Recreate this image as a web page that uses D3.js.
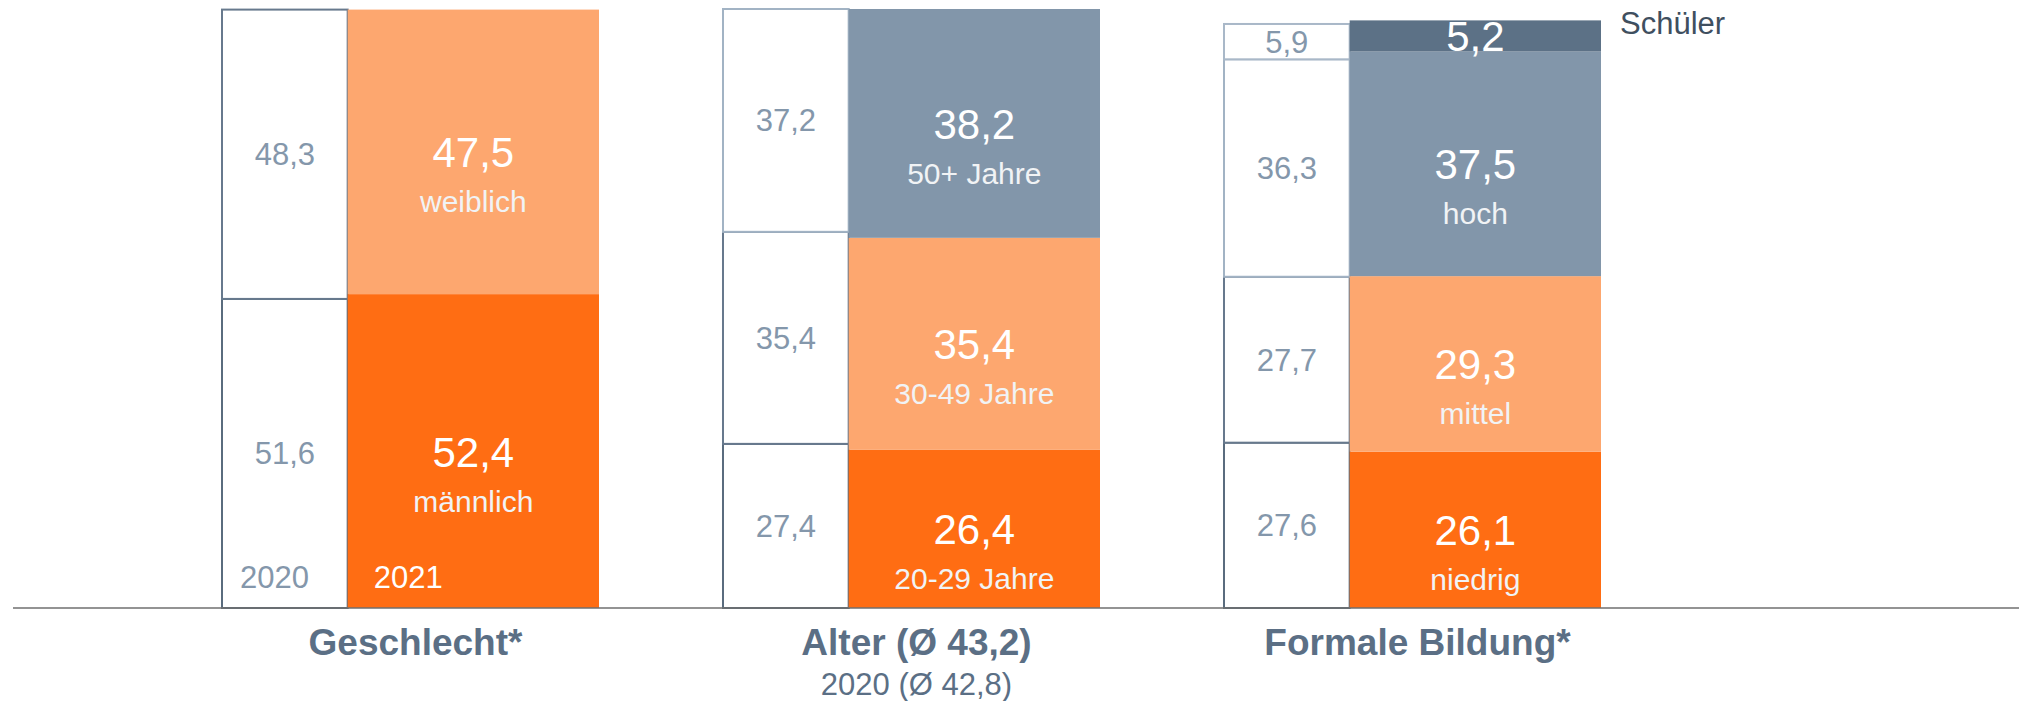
<!DOCTYPE html>
<html>
<head>
<meta charset="utf-8">
<script src="https://cdn.jsdelivr.net/npm/d3@7"></script>
<style>
  html, body { margin: 0; padding: 0; background: #fff; }
  svg { display: block; font-family: "Liberation Sans", Arial, sans-serif; }
</style>
</head>
<body>
<svg id="chart" width="2019" height="701"></svg>
<script>
// ---- data ----
const categories = ["Geschlecht*", "Alter (Ø 43,2)", "Formale Bildung*"];
const categorySubtitles = ["", "2020 (Ø 42,8)", ""];
const yearLabels = ["2020", "2021"];

const geschlechtLabels = ["männlich", "weiblich"];
const geschlecht2020 = [51.6, 48.3];
const geschlecht2021 = [52.4, 47.5];

const alterLabels = ["20-29 Jahre", "30-49 Jahre", "50+ Jahre"];
const alter2020 = [27.4, 35.4, 37.2];
const alter2021 = [26.4, 35.4, 38.2];

const bildungLabels = ["niedrig", "mittel", "hoch", "Schüler"];
const bildung2020 = [27.6, 27.7, 36.3, 5.9];
const bildung2021 = [26.1, 29.3, 37.5, 5.2];

const groups = [
  { cat: categories[0], sub: categorySubtitles[0], labels: geschlechtLabels, v2020: geschlecht2020, v2021: geschlecht2021 },
  { cat: categories[1], sub: categorySubtitles[1], labels: alterLabels, v2020: alter2020, v2021: alter2021 },
  { cat: categories[2], sub: categorySubtitles[2], labels: bildungLabels, v2020: bildung2020, v2021: bildung2021 }
];

// ---- styles ----
const fillColors = ["#ff6d13", "#fda76f", "#8296aa", "#5c7186"];
const strokeColors = ["#5a6c7e", "#67798d", "#a2b3c4", "#a9b8c8"];
const valueGray = "#8497ab";
const titleColor = "#5b6f85";

const svg = d3.select("#chart");

const x = d3.scaleBand()
  .domain(categories)
  .range([222, 1601])
  .paddingInner(0.2475)
  .paddingOuter(0);

const y = d3.scaleLinear().domain([0, 100]).range([608, 9]);

function stack(vals) {
  let acc = 0;
  return vals.map((v, i) => { const s = { i, y0: acc, y1: acc + v, v }; acc += v; return s; });
}
const fmt = v => d3.format(".1f")(v).replace(".", ",");

groups.forEach(g => {
  const x0 = x(g.cat);
  const bw = x.bandwidth();
  const w20 = bw / 3;
  const x21 = x0 + w20;
  const w21 = bw - w20;
  const gEl = svg.append("g");

  // 2020 outline boxes
  const s20 = stack(g.v2020);
  gEl.selectAll("rect.b20").data(s20).join("rect")
    .attr("x", x0).attr("width", w20)
    .attr("y", d => y(d.y1)).attr("height", d => y(d.y0) - y(d.y1))
    .attr("fill", "#fff")
    .attr("stroke", d => strokeColors[d.i])
    .attr("stroke-width", 2);

  gEl.selectAll("text.v20").data(s20).join("text")
    .attr("x", x0 + w20 / 2)
    .attr("y", d => (y(d.y0) + y(d.y1)) / 2 + 11)
    .attr("text-anchor", "middle")
    .attr("font-size", 31)
    .attr("fill", valueGray)
    .text(d => fmt(d.v));

  // 2021 filled bars
  const s21 = stack(g.v2021);
  gEl.selectAll("rect.b21").data(s21).join("rect")
    .attr("x", x21).attr("width", w21)
    .attr("y", d => y(d.y1)).attr("height", d => y(d.y0) - y(d.y1))
    .attr("fill", d => fillColors[d.i]);

  s21.forEach(d => {
    const cy = (y(d.y0) + y(d.y1)) / 2;
    const h = y(d.y0) - y(d.y1);
    gEl.append("text")
      .attr("x", x21 + w21 / 2)
      .attr("y", cy + 15.5)
      .attr("text-anchor", "middle")
      .attr("font-size", 42)
      .attr("fill", "#fff")
      .text(fmt(d.v));
    if (h > 60) {
      gEl.append("text")
        .attr("x", x21 + w21 / 2)
        .attr("y", cy + 15.5 + 45)
        .attr("text-anchor", "middle")
        .attr("font-size", 30)
        .attr("fill", "#f1f3f5")
        .text(g.labels[d.i]);
    } else {
      gEl.append("text")
        .attr("x", x21 + w21 + 19)
        .attr("y", y(d.y1) + 14)
        .attr("font-size", 31)
        .attr("fill", "#3f4f5f")
        .text(g.labels[d.i]);
    }
  });

  // category titles
  gEl.append("text")
    .attr("x", x0 + bw / 2 + 5)
    .attr("y", 655)
    .attr("text-anchor", "middle")
    .attr("font-size", 37)
    .attr("font-weight", "bold")
    .attr("fill", titleColor)
    .text(g.cat);
  if (g.sub) {
    gEl.append("text")
      .attr("x", x0 + bw / 2 + 5)
      .attr("y", 695)
      .attr("text-anchor", "middle")
      .attr("font-size", 31)
      .attr("fill", titleColor)
      .text(g.sub);
  }
});

// year labels in first group
{
  const x0 = x(categories[0]);
  const bw = x.bandwidth();
  svg.append("text").attr("x", x0 + 18).attr("y", 588)
    .attr("font-size", 31).attr("fill", valueGray).text(yearLabels[0]);
  svg.append("text").attr("x", x0 + bw / 3 + 26).attr("y", 588)
    .attr("font-size", 31).attr("fill", "#fff").text(yearLabels[1]);
}

// baseline axis
svg.append("line")
  .attr("x1", 13).attr("x2", 2019)
  .attr("y1", y(0)).attr("y2", y(0))
  .attr("stroke", "#6f6f6f").attr("stroke-width", 1.5);
</script>
</body>
</html>
